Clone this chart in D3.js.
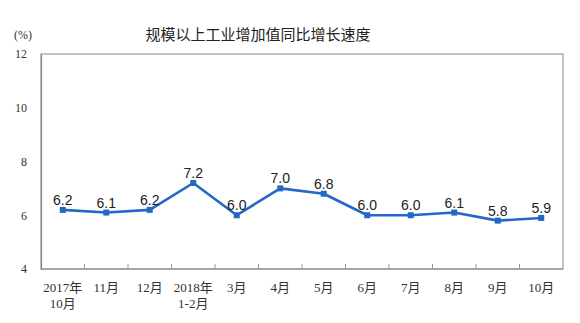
<!DOCTYPE html>
<html>
<head>
<meta charset="utf-8">
<script src="https://cdnjs.cloudflare.com/ajax/libs/d3/7.8.5/d3.min.js"></script>
<style>
  html, body { margin: 0; padding: 0; background: #fff; }
  svg { display: block; }
</style>
</head>
<body>
<script>
// Monthly categories (first line / second line of each axis label)
const categories = ["2017年10月", "11月", "12月", "2018年1-2月", "3月", "4月", "5月", "6月", "7月", "8月", "9月", "10月"];
const labelLine1 = ["2017年", "11月", "12月", "2018年", "3月", "4月", "5月", "6月", "7月", "8月", "9月", "10月"];
const labelLine2 = ["10月", "", "", "1-2月", "", "", "", "", "", "", "", ""];
// Year-on-year growth rate of industrial value added (%)
const growth = [6.2, 6.1, 6.2, 7.2, 6.0, 7.0, 6.8, 6.0, 6.0, 6.1, 5.8, 5.9];
const yTicks = [4, 6, 8, 10, 12];

const W = 580, H = 323;
const margin = { left: 41, right: 17, top: 54, bottom: 54 };

const svg = d3.select("body").append("svg").attr("width", W).attr("height", H);

const x = d3.scaleBand().domain(categories).range([margin.left, W - margin.right]);
const y = d3.scaleLinear().domain([4, 12]).range([H - margin.bottom, margin.top]);

const serif = "'Liberation Serif', 'DejaVu Serif', serif";
const cjkSerif = "'Liberation Serif', 'Noto Sans CJK SC', serif";

// Title
svg.append("text")
  .attr("x", 258).attr("y", 40)
  .attr("text-anchor", "middle")
  .attr("font-family", "'Noto Sans CJK SC', sans-serif")
  .attr("font-size", 15)
  .attr("fill", "#222")
  .text("规模以上工业增加值同比增长速度");

// Unit label
svg.append("text")
  .attr("x", 14).attr("y", 39)
  .attr("font-family", serif)
  .attr("font-size", 12)
  .attr("fill", "#333")
  .text("(%)");

// Plot frame
svg.append("rect")
  .attr("x", margin.left).attr("y", margin.top)
  .attr("width", W - margin.left - margin.right)
  .attr("height", H - margin.top - margin.bottom)
  .attr("fill", "none")
  .attr("stroke", "#999")
  .attr("stroke-width", 1.2);

// Y axis labels (no tick marks)
const yAxis = d3.axisLeft(y).tickValues(yTicks).tickSize(0).tickPadding(14).tickFormat(d3.format("d"));
svg.append("g")
  .attr("transform", `translate(${margin.left},0)`)
  .call(yAxis)
  .call(g => g.select(".domain").attr("stroke", "#888").attr("stroke-width", 1.2))
  .call(g => g.selectAll("text").attr("font-family", serif).attr("font-size", 12).attr("fill", "#333"));

// X axis: short inward ticks at category boundaries
const boundaries = categories.slice(1).map(c => x(c));
svg.append("g")
  .selectAll("line")
  .data(boundaries)
  .join("line")
  .attr("x1", d => d).attr("x2", d => d)
  .attr("y1", H - margin.bottom).attr("y2", H - margin.bottom - 5)
  .attr("stroke", "#999").attr("stroke-width", 1);

svg.append("line")
  .attr("x1", margin.left).attr("x2", W - margin.right)
  .attr("y1", H - margin.bottom).attr("y2", H - margin.bottom)
  .attr("stroke", "#888").attr("stroke-width", 1.2);

// X axis labels
const xl = svg.append("g")
  .attr("font-family", cjkSerif)
  .attr("font-size", 13)
  .attr("fill", "#333")
  .attr("text-anchor", "middle");
xl.selectAll("text.l1")
  .data(categories)
  .join("text")
  .attr("class", "l1")
  .attr("x", d => x(d) + x.bandwidth() / 2)
  .attr("y", 292)
  .text((d, i) => labelLine1[i]);
xl.selectAll("text.l2")
  .data(categories)
  .join("text")
  .attr("class", "l2")
  .attr("x", d => x(d) + x.bandwidth() / 2)
  .attr("y", 308)
  .text((d, i) => labelLine2[i]);

// Series line
const cx = (d, i) => x(categories[i]) + x.bandwidth() / 2;
const line = d3.line().x(cx).y(d => y(d));
const blue = "#2268c4";

svg.append("path")
  .datum(growth)
  .attr("d", line)
  .attr("fill", "none")
  .attr("stroke", blue)
  .attr("stroke-width", 2.6)
  .attr("stroke-linejoin", "round");

// Square markers
svg.append("g")
  .selectAll("rect")
  .data(growth)
  .join("rect")
  .attr("x", (d, i) => cx(d, i) - 3)
  .attr("y", d => y(d) - 3)
  .attr("width", 6).attr("height", 6)
  .attr("fill", blue);

// Value labels
svg.append("g")
  .selectAll("text")
  .data(growth)
  .join("text")
  .attr("x", cx)
  .attr("y", d => y(d) - 5)
  .attr("text-anchor", "middle")
  .attr("font-family", "'Liberation Sans', Arial, sans-serif")
  .attr("font-size", 14)
  .attr("fill", "#222")
  .text(d => d.toFixed(1));
</script>
</body>
</html>
